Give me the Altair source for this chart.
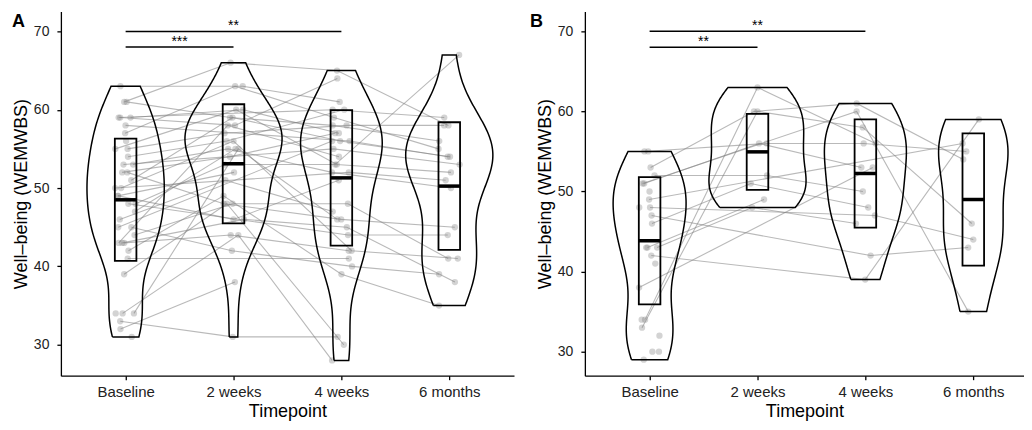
import altair as alt
import numpy as np
import pandas as pd

TIMEPOINTS = ["Baseline", "2 weeks", "4 weeks", "6 months"]
Y_TITLE = "Well–being (WEMWBS)"
X_TITLE = "Timepoint"

# ---------------- Panel A: one entry per participant (None = not measured)
A_baseline = [63, 61, 61, 59, 59, 59, 58, 57, 56, 55, 55, 54, 53, 53, 52, 52, 51, 50, 50, 49,
              49, 48, 48, 47, 46, 45, 45, 44, 43, 43, 43, 42, 41, 39, 34, 34, 34, 33, 32, 31]
A_2weeks = [63, 66, 59, 60, None, 58, None, 63, None, 60, 57, 56, None, 55, 54, 48, 59, None, 56, 52,
            46, 53, None, 55, 51, 42, None, 48, 58, 46, 44, 49, None, 48, 55, 44, None, 31, 38, None]
A_4weeks = [61, 65, 58, 57, 60, 64, 56, 59, None, 53, 58, 60, 55, 52, 57, 46, 56, 52, 42, None,
            51, 53, 44, None, 47, 40, 56, 48, 54, 45, 42, 39, 41, 30, 46, 28, None, 31, None, None]
A_6months = [None, 58, 56, None, 59, None, 54, 55, None, 52, 58, None, 53, 50, None, 45, 54, 51, 41, None,
             None, 67, 44, None, None, 39, None, 41, None, 38, None, 35, None, None, None, None, None, None, None, None]
A_mean = [48.5, 53.1, 51.3, 50.25]
A_sd = [7.8, 7.6, 8.65, 8.15]
A_sig_from = [1, 1]
A_sig_to = [2, 3]
A_sig_y = [68, 70]
A_sig_label = ["***", "**"]

# ---------------- Panel B
B_baseline = [55, 55, 53, 52, 51, 51, 50, 49, 48, 48, 47, 46, 43, 43, 43, 42, 41, 38, 34, 34,
              33, 32, 30, 30, 29]
B_2weeks = [56, None, 60, 52, None, 56, None, None, None, None, None, 51, 49, 48, None, None, None, None, 63, None,
            60, None, None, None, None]
B_4weeks = [56, None, 61, 50, 60, 53, None, None, 47, None, 42, 48, None, 46, None, 39, None, 53, 56, None,
            58, None, None, None, None]
B_6months = [55, None, 54, None, 35, None, None, 56, 44, None, 43, None, None, None, None, 59, None, None, None, None,
             46, None, None, None, None]
B_mean = [43.85, 54.95, 52.25, 49.0]
B_sd = [7.95, 4.75, 6.75, 8.25]
B_sig_from = [1, 1]
B_sig_to = [2, 3]
B_sig_y = [68, 70]
B_sig_label = ["**", "**"]

FONT = "Liberation Sans"
PT_COLOR = "#808080"


def long_frame(columns):
    rows = []
    for t, col in enumerate(columns, start=1):
        for sid, v in enumerate(col, start=1):
            if v is not None:
                rows.append({"sid": sid, "t": t, "value": v})
    return pd.DataFrame(rows)


def violin_frame(columns, n=256):
    """Gaussian KDE (bw.nrd0), trimmed to each group's range, violins of equal area.
    Returned as a closed outline (left side upward, right side downward)."""
    dens = []
    for t, col in enumerate(columns, start=1):
        v = np.array([x for x in col if x is not None], dtype=float)
        sd = v.std(ddof=1)
        q1, q3 = np.percentile(v, [25, 75])
        spread = min(sd, (q3 - q1) / 1.34) if q3 > q1 else sd
        bw = 0.9 * spread * len(v) ** -0.2
        grid = np.linspace(v.min(), v.max(), n)
        d = np.exp(-0.5 * ((grid[:, None] - v[None, :]) / bw) ** 2).sum(axis=1) / (len(v) * bw * np.sqrt(2 * np.pi))
        dens.append((t, grid, d))
    mx = max(d.max() for _, _, d in dens)
    rows = []
    for t, grid, d in dens:
        hw = 0.45 * d / mx
        seq = 0
        for g, h in zip(grid, hw):
            rows.append({"t": t, "seq": seq, "y": float(g), "xo": t - float(h)})
            seq += 1
        for g, h in zip(grid[::-1], hw[::-1]):
            rows.append({"t": t, "seq": seq, "y": float(g), "xo": t + float(h)})
            seq += 1
        rows.append({"t": t, "seq": seq, "y": float(grid[0]), "xo": t - float(hw[0])})
    return pd.DataFrame(rows)


JITTER = "datum.t + 0.1 * (2 * ((abs(sin(datum.sid * 12.9898 + datum.t * 78.233)) * 43758.5453) % 1) - 1)"


def panel(columns, means, sds, sig_from, sig_to, sig_y, sig_label, letter, xmax, ydom, width, letter_dx):
    pts = long_frame(columns)
    vio = violin_frame(columns)
    stats = pd.DataFrame({"t": [1, 2, 3, 4], "mean": means, "sd": sds})
    stats["lo"] = stats["mean"] - stats["sd"]
    stats["hi"] = stats["mean"] + stats["sd"]
    stats["x1"] = stats["t"] - 0.1
    stats["x2"] = stats["t"] + 0.1
    sig = pd.DataFrame({"x1": sig_from, "x2": sig_to, "y": sig_y, "label": sig_label})
    sig["xm"] = (sig["x1"] + sig["x2"]) / 2

    label_expr = "[''," + ",".join("'%s'" % s for s in TIMEPOINTS) + "][datum.value]"
    xaxis = alt.Axis(values=[1, 2, 3, 4], labelExpr=label_expr, title=X_TITLE,
                     labelFontSize=15, labelPadding=5, tickSize=4, titleFontSize=18, titlePadding=3,
                     labelFlush=False)
    yaxis = alt.Axis(values=[30, 40, 50, 60, 70], title=Y_TITLE, labelFontSize=14, labelPadding=8,
                     tickSize=4, titleFontSize=18, titlePadding=3)
    xs = alt.Scale(domain=[0.4, xmax], nice=False, zero=False)
    ys = alt.Scale(domain=ydom, nice=False, zero=False)

    def X(f):
        return alt.X(f, type="quantitative", scale=xs, axis=xaxis)

    def Y(f):
        return alt.Y(f, type="quantitative", scale=ys, axis=yaxis)

    base_pts = alt.Chart(pts).transform_calculate(xj=JITTER)
    lines = base_pts.mark_line(color=PT_COLOR, opacity=0.55, strokeWidth=1.1).encode(
        x=X("xj"), y=Y("value"), detail="sid:N", order="t:Q")
    dots = base_pts.mark_circle(color=PT_COLOR, opacity=0.35, size=40).encode(
        x=X("xj"), y=Y("value"))
    violin = alt.Chart(vio).mark_line(color="black", strokeWidth=1.5, strokeJoin="miter").encode(
        y=Y("y"), x=X("xo"), detail="t:N", order="seq:Q")
    box = alt.Chart(stats).mark_rect(fillOpacity=0, stroke="black", strokeWidth=1.8).encode(
        x=X("x1"), x2=alt.X2("x2"), y=Y("lo"), y2=alt.Y2("hi"))
    mline = alt.Chart(stats).mark_rule(color="black", strokeWidth=3.5).encode(
        x=X("x1"), x2=alt.X2("x2"), y=Y("mean"))
    sig_rule = alt.Chart(sig).mark_rule(color="black", strokeWidth=1.5).encode(
        x=X("x1"), x2=alt.X2("x2"), y=Y("y"))
    sig_text = alt.Chart(sig).mark_text(font=FONT, fontSize=14, baseline="alphabetic", dy=-1,
                                        color="black").encode(
        x=X("xm"), y=Y("y"), text="label:N")
    let = alt.Chart(pd.DataFrame({"label": [letter]})).mark_text(
        font=FONT, fontSize=18, fontWeight="bold", align="left", baseline="alphabetic",
        color="black").encode(x=alt.value(letter_dx), y=alt.value(16), text="label:N")
    return alt.layer(lines, dots, violin, box, mline, sig_rule, sig_text, let).properties(
        width=width, height=365)


pA = panel([A_baseline, A_2weeks, A_4weeks, A_6months], A_mean, A_sd,
           A_sig_from, A_sig_to, A_sig_y, A_sig_label, "A", 4.6, [26.05, 72.55], 454, -49)
pB = panel([B_baseline, B_2weeks, B_4weeks, B_6months], B_mean, B_sd,
           B_sig_from, B_sig_to, B_sig_y, B_sig_label, "B", 4.47, [27.0, 72.49], 440, -55)

chart = alt.hconcat(pA, pB, spacing=16).properties(
    padding={"left": 4, "top": 3, "right": 0, "bottom": 0}).configure_view(
    stroke=None).configure_axis(
    grid=False, domainColor="black", tickColor="black", domainWidth=1.3, tickWidth=1.3,
    labelColor="#222222", titleColor="black", labelFont=FONT, titleFont=FONT,
    titleFontWeight="normal").configure_text(font=FONT)

chart.save("out.html", embed_options={"renderer": "svg", "actions": False})
